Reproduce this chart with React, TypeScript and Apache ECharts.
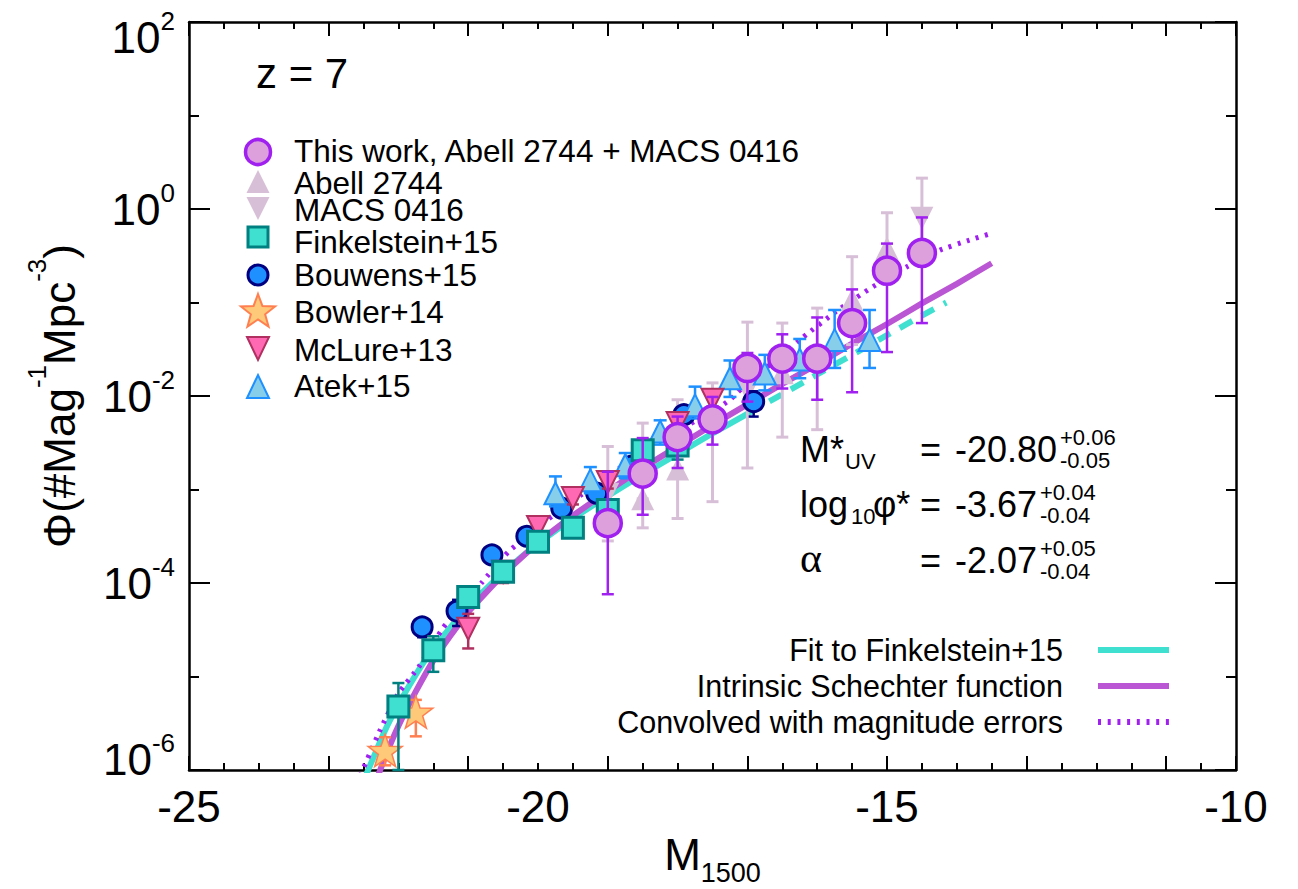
import React, { useEffect, useRef } from 'react';
import * as echarts from 'echarts';

const FONT = '"Liberation Sans", Arial, Helvetica, sans-serif';

// ---------- data (log10 Phi values) ----------
const thisWorkM = [-19.0, -18.5, -18.0, -17.5, -17.0, -16.5, -16.0, -15.5, -15.0, -14.5];
const thisWorkLogPhi = [-3.36, -2.83, -2.44, -2.25, -1.70, -1.60, -1.60, -1.22, -0.66, -0.47];
const thisWorkLo = [-4.12, -3.27, -2.77, -2.52, -2.06, -1.92, -2.04, -1.96, -1.53, -1.22];
const thisWorkHi = [-2.81, -2.45, -2.22, -2.01, -1.54, -1.34, -1.16, -0.86, -0.37, -0.09];

const a2744M = [-18.5, -18.0, -16.5, -15.5, -15.0];
const a2744LogPhi = [-3.10, -2.78, -1.75, -0.97, -0.42];
const a2744Lo = [-3.41, -3.31, -2.44, -1.45, -0.80];
const a2744Hi = [-2.80, -2.40, -1.22, -0.51, -0.04];

const m0416M = [-19.0, -18.5, -18.0, -17.5, -17.0, -16.0, -14.5];
const m0416LogPhi = [-3.05, -2.75, -2.45, -2.30, -1.94, -1.65, -0.10];
const m0416Lo = [-3.55, -3.10, -2.86, -3.13, -2.77, -2.36, -0.50];
const m0416Hi = [-2.54, -2.29, -2.04, -1.86, -1.21, -1.06, 0.33];

const finkM = [-22.0, -21.5, -21.0, -20.5, -20.0, -19.5, -19.0, -18.5, -18.0];
const finkLogPhi = [-5.32, -4.72, -4.15, -3.88, -3.56, -3.41, -3.22, -2.58, -2.53];
const finkLo = [-6.0, -4.95, -4.24, -3.96, -3.62, -3.46, -3.30, -2.68, -2.68];
const finkHi = [-5.07, -4.57, -4.06, -3.80, -3.50, -3.36, -3.14, -2.50, -2.44];

const bouwensM = [-21.66, -21.16, -20.66, -20.16, -19.66, -19.16, -18.66, -17.91, -16.91];
const bouwensLogPhi = [-4.47, -4.30, -3.70, -3.50, -3.20, -3.04, -2.75, -2.20, -2.06];
const bouwensLo = [-4.58, -4.46, -3.76, -3.55, -3.25, -3.09, -2.81, -2.26, -2.22];
const bouwensHi = [-4.38, -4.18, -3.64, -3.45, -3.16, -2.99, -2.69, -2.14, -1.95];

const bowlerM = [-22.19, -21.75];
const bowlerLogPhi = [-5.79, -5.38];
const bowlerLo = [-5.95, -5.64];
const bowlerHi = [-5.65, -5.25];

const mclureM = [-21.0, -20.5, -20.0, -19.5, -19.0, -18.0, -17.5];
const mclureLogPhi = [-4.49, -3.88, -3.40, -3.09, -2.92, -2.29, -2.04];
const mclureLo = [-4.70, -4.00, -3.48, -3.16, -2.99, -2.36, -2.11];
const mclureHi = [-4.33, -3.79, -3.33, -3.03, -2.86, -2.23, -1.98];

const atekM = [-19.75, -19.25, -18.75, -18.25, -17.75, -17.25, -16.75, -16.25, -15.75, -15.25];
const atekLogPhi = [-3.04, -2.90, -2.74, -2.38, -2.10, -1.81, -1.76, -1.61, -1.40, -1.40];
const atekLo = [-3.18, -3.04, -2.88, -2.52, -2.24, -2.01, -1.94, -1.81, -1.70, -1.70];
const atekHi = [-2.86, -2.76, -2.61, -2.26, -1.90, -1.62, -1.56, -1.39, -1.08, -1.08];

// curves
const intrinsicM = [-22.35, -22.2, -22.0, -21.75, -21.5, -21.25, -21.0, -20.5, -20.0, -19.5, -19.0, -18.5, -18.0, -17.5, -17.0, -16.5, -16.0, -15.5, -15.0, -14.5, -14.0, -13.5];
const intrinsicLog = [-6.18, -5.88, -5.53, -5.16, -4.83, -4.56, -4.31, -3.91, -3.57, -3.28, -3.02, -2.77, -2.54, -2.31, -2.09, -1.87, -1.66, -1.44, -1.23, -1.01, -0.80, -0.58];

const finkFitM = [-22.5, -22.2, -22.0, -21.75, -21.5, -21.0, -20.5, -20.0, -19.5, -19.0, -18.5, -18.0, -17.5, -17.0];
const finkFitLog = [-6.12, -5.59, -5.30, -4.98, -4.70, -4.25, -3.89, -3.58, -3.31, -3.07, -2.84, -2.62, -2.40, -2.19];
const finkExtM = [-17.0, -16.5, -16.0, -15.5, -15.0, -14.5, -14.15];
const finkExtLog = [-2.19, -1.98, -1.77, -1.56, -1.35, -1.14, -1.00];

const convM = [-22.6, -22.26, -22.0, -21.71, -21.36, -21.0, -20.81, -20.43, -20.0, -19.5, -19.0, -18.5, -18.0, -17.5, -17.25, -17.0, -16.5, -16.2, -15.7, -15.2, -14.72, -14.24, -13.85, -13.5];
const convLog = [-6.15, -5.57, -5.18, -4.90, -4.48, -4.17, -4.00, -3.67, -3.40, -3.12, -2.86, -2.60, -2.37, -2.17, -2.04, -1.86, -1.56, -1.37, -1.08, -0.83, -0.62, -0.44, -0.34, -0.26];

const xTickValues = [-25, -20, -15, -10];
const yTickExponents = [-6, -4, -2, 0, 2];

const legendLabels = ['This work, Abell 2744 + MACS 0416', 'Abell 2744', 'MACS 0416', 'Finkelstein+15', 'Bouwens+15', 'Bowler+14', 'McLure+13', 'Atek+15'];
const lineLegendLabels = ['Fit to Finkelstein+15', 'Intrinsic Schechter function', 'Convolved with magnitude errors'];

// ---------- colours ----------
const PURPLE = '#A020F0';
const PLUM = '#DDA0DD';
const THISTLE = '#D8BFD8';
const TURQ = '#40E0D0';
const TEAL = '#008080';
const DODGER = '#1E90FF';
const NAVY = '#000080';
const STAR_FILL = '#FFC97A';
const CORAL = '#FF7F50';
const HOTPINK = '#FF69B4';
const MAROON = '#B03060';
const SKY = '#87CEEB';
const ORCHID = '#BA55D3';

const STAR_PATH = 'path://M100,0 L123.5,67.6 L195.1,69.1 L138,112.4 L158.8,180.9 L100,140 L41.2,180.9 L62,112.4 L4.9,69.1 L76.5,67.6 Z';

const pairs = (m: number[], y: number[]) => m.map((v, i) => [v, y[i]]);
const triples = (m: number[], a: number[], b: number[]) => m.map((v, i) => [v, a[i], b[i]]);

function errSeries(name: string, m: number[], lo: number[], hi: number[], color: string, lw: number, cap: number, z: number) {
  return {
    type: 'custom',
    name,
    z,
    silent: true,
    data: triples(m, lo, hi),
    encode: { x: 0, y: [1, 2] },
    renderItem: (_p: any, api: any) => {
      const x = api.value(0);
      const a = api.coord([x, api.value(1)]);
      const b = api.coord([x, api.value(2)]);
      const h = cap / 2;
      const st = { stroke: color, lineWidth: lw };
      return {
        type: 'group',
        children: [
          { type: 'line', shape: { x1: a[0], y1: a[1], x2: b[0], y2: b[1] }, style: st },
          { type: 'line', shape: { x1: a[0] - h, y1: a[1], x2: a[0] + h, y2: a[1] }, style: st },
          { type: 'line', shape: { x1: b[0] - h, y1: b[1], x2: b[0] + h, y2: b[1] }, style: st },
        ],
      };
    },
  };
}

function markerSeries(name: string, m: number[], y: number[], symbol: string, size: number, fill: string, stroke: string, lw: number, z: number, rotate = 0) {
  return {
    type: 'scatter',
    name,
    z,
    silent: true,
    data: pairs(m, y),
    symbol,
    symbolSize: size,
    symbolRotate: rotate,
    symbolKeepAspect: true,
    itemStyle: { color: fill, borderColor: stroke, borderWidth: lw, opacity: 1 },
  };
}

function curveSeries(name: string, m: number[], y: number[], color: string, width: number, type: any, z: number) {
  return {
    type: 'line',
    name,
    z,
    silent: true,
    data: pairs(m, y),
    symbol: 'none',
    showSymbol: false,
    smooth: 0.15,
    clip: true,
    lineStyle: { color, width, type, cap: 'butt' },
  };
}

function starPoints(cx: number, cy: number, R: number, r: number) {
  const p: number[][] = [];
  for (let i = 0; i < 10; i++) {
    const ang = -Math.PI / 2 + (i * Math.PI) / 5;
    const rad = i % 2 === 0 ? R : r;
    p.push([cx + rad * Math.cos(ang), cy + rad * Math.sin(ang)]);
  }
  return p;
}

function txt(x: number, y: number, text: string, size: number, align = 'left', family = FONT) {
  return {
    type: 'text',
    x,
    y,
    z: 100,
    silent: true,
    style: { text, fill: '#000', fontSize: size, fontFamily: family, textAlign: align, textVerticalAlign: 'middle', verticalAlign: 'middle' },
  };
}

function buildGraphic() {
  const g: any[] = [];
  g.push(txt(256, 73, 'z = 7', 42));
  // legend symbols
  const sx = 258;
  g.push({ type: 'circle', z: 100, shape: { cx: sx, cy: 152, r: 12.5 }, style: { fill: PLUM, stroke: PURPLE, lineWidth: 3.5 } });
  g.push({ type: 'polygon', z: 100, shape: { points: [[sx - 11.5, 193], [sx + 11.5, 193], [sx, 170]] }, style: { fill: THISTLE } });
  g.push({ type: 'polygon', z: 100, shape: { points: [[sx - 11.5, 197], [sx + 11.5, 197], [sx, 220]] }, style: { fill: THISTLE } });
  g.push({ type: 'rect', z: 100, shape: { x: sx - 10, y: 227, width: 20, height: 20 }, style: { fill: TURQ, stroke: TEAL, lineWidth: 3 } });
  g.push({ type: 'circle', z: 100, shape: { cx: sx, cy: 275, r: 10 }, style: { fill: DODGER, stroke: NAVY, lineWidth: 3 } });
  g.push({ type: 'polygon', z: 100, shape: { points: starPoints(sx, 312, 18, 7.5) }, style: { fill: STAR_FILL, stroke: CORAL, lineWidth: 2 } });
  g.push({ type: 'polygon', z: 100, shape: { points: [[sx - 11, 337], [sx + 11, 337], [sx, 360]] }, style: { fill: HOTPINK, stroke: MAROON, lineWidth: 2 } });
  g.push({ type: 'polygon', z: 100, shape: { points: [[sx - 11, 398], [sx + 11, 398], [sx, 375]] }, style: { fill: SKY, stroke: DODGER, lineWidth: 2 } });
  const rows = [151, 183, 210, 242, 275, 312, 350, 386];
  legendLabels.forEach((l, i) => g.push(txt(294, rows[i], l, 31.5)));

  // line legend
  const lrows = [650, 686, 722];
  lineLegendLabels.forEach((l, i) => g.push(txt(1063, lrows[i], l, 30.5, 'right')));
  g.push({ type: 'line', z: 100, shape: { x1: 1098, y1: 650, x2: 1169, y2: 650 }, style: { stroke: TURQ, lineWidth: 6 } });
  g.push({ type: 'line', z: 100, shape: { x1: 1098, y1: 686, x2: 1169, y2: 686 }, style: { stroke: ORCHID, lineWidth: 6 } });
  g.push({ type: 'line', z: 100, shape: { x1: 1098, y1: 722, x2: 1169, y2: 722 }, style: { stroke: PURPLE, lineWidth: 6, lineDash: [3, 6.7] } });

  // fit parameters
  const F = 36, S = 22;
  const mid = (b: number, f: number) => b - 0.3465 * f;
  // row 1
  g.push(txt(800, mid(462, F), 'M*', F));
  g.push(txt(845, mid(469, S), 'UV', S));
  g.push(txt(920, mid(462, F), '=', F));
  g.push(txt(955, mid(462, F), '-20.80', F));
  g.push(txt(1060, mid(445, S), '+0.06', S));
  g.push(txt(1060, mid(468, S), '-0.05', S));
  // row 2
  g.push(txt(800, mid(517, F), 'log', F));
  g.push(txt(851, mid(524, S), '10', S));
  g.push(txt(873, mid(517, F), 'φ*', F));
  g.push(txt(920, mid(517, F), '=', F));
  g.push(txt(955, mid(517, F), '-3.67', F));
  g.push(txt(1040, mid(500, S), '+0.04', S));
  g.push(txt(1040, mid(523, S), '-0.04', S));
  // row 3
  g.push(txt(800, mid(573, 42), 'α', 42, 'left', '"Liberation Serif", "Times New Roman", serif'));
  g.push(txt(920, mid(573, F), '=', F));
  g.push(txt(955, mid(573, F), '-2.07', F));
  g.push(txt(1040, mid(556, S), '+0.05', S));
  g.push(txt(1040, mid(579, S), '-0.04', S));
  return g;
}

function yLabel(v: number) {
  if (v === yTickExponents[yTickExponents.length - 1]) return `{bt|10}{st|${v}}`;
  if (v === yTickExponents[0]) return `{bb|10}{s|${v}}`;
  return `{b|10}{s|${v}}`;
}

function buildOption() {
  const tickStyle = { color: '#000', width: 2 };
  const lineStyle = { color: '#000', width: 2.5 };
  const tickOnlyX = (position: string, interval: number, length: number, showLine: boolean) => ({
    type: 'value', min: -25, max: -10, interval, position,
    axisLine: { show: showLine, onZero: false, lineStyle },
    axisTick: { show: true, inside: true, length, lineStyle: tickStyle },
    axisLabel: { show: false },
    splitLine: { show: false },
  });
  const lbl = { fontSize: 44, fontFamily: FONT, color: '#000' };
  const sup = { fontSize: 26, fontFamily: FONT, color: '#000', verticalAlign: 'top' };
  const series: any[] = [
    curveSeries('Fit to Finkelstein+15', finkFitM, finkFitLog, TURQ, 6, 'solid', 2),
    curveSeries('Fit to Finkelstein+15 (extrapolated)', finkExtM, finkExtLog, TURQ, 6, [14, 11], 2),
    curveSeries('Intrinsic Schechter function', intrinsicM, intrinsicLog, ORCHID, 6, 'solid', 2),
    curveSeries('Convolved with magnitude errors', convM, convLog, PURPLE, 5, [3, 6.5], 2),

    errSeries('Abell 2744 err', a2744M, a2744Lo, a2744Hi, THISTLE, 3, 12, 3),
    errSeries('MACS 0416 err', m0416M, m0416Lo, m0416Hi, THISTLE, 3, 12, 3),
    markerSeries('Abell 2744', a2744M, a2744LogPhi, 'triangle', 23, THISTLE, THISTLE, 0, 4),
    markerSeries('MACS 0416', m0416M, m0416LogPhi, 'triangle', 23, THISTLE, THISTLE, 0, 4, 180),

    errSeries('Bouwens+15 err', bouwensM, bouwensLo, bouwensHi, NAVY, 2.5, 10, 5),
    markerSeries('Bouwens+15', bouwensM, bouwensLogPhi, 'circle', 20, DODGER, NAVY, 3, 6),

    errSeries('Bowler+14 err', bowlerM, bowlerLo, bowlerHi, CORAL, 2.5, 12, 7),
    markerSeries('Bowler+14', bowlerM, bowlerLogPhi, STAR_PATH, 34, STAR_FILL, CORAL, 1.5, 8),

    errSeries('Atek+15 err', atekM, atekLo, atekHi, DODGER, 2.5, 13, 9),
    markerSeries('Atek+15', atekM, atekLogPhi, 'triangle', 22, SKY, DODGER, 2, 10),

    errSeries('McLure+13 err', mclureM, mclureLo, mclureHi, MAROON, 2.5, 12, 11),
    markerSeries('McLure+13', mclureM, mclureLogPhi, 'triangle', 22, HOTPINK, MAROON, 2, 12, 180),

    errSeries('Finkelstein+15 err', finkM, finkLo, finkHi, TEAL, 2.5, 12, 13),
    markerSeries('Finkelstein+15', finkM, finkLogPhi, 'rect', 21, TURQ, TEAL, 3, 14),

    errSeries('This work err', thisWorkM, thisWorkLo, thisWorkHi, PURPLE, 2.5, 12, 15),
    markerSeries('This work, Abell 2744 + MACS 0416', thisWorkM, thisWorkLogPhi, 'circle', 27, PLUM, PURPLE, 3.5, 16),
  ];

  return {
    animation: false,
    backgroundColor: '#fff',
    textStyle: { fontFamily: FONT },
    grid: { left: 189, top: 22, width: 1047, height: 748, containLabel: false, outerBoundsMode: 'none' },
    xAxis: [
      {
        type: 'value', min: xTickValues[0], max: xTickValues[xTickValues.length - 1], interval: 5, position: 'bottom',
        axisLine: { show: true, onZero: false, lineStyle },
        axisTick: { show: false },
        splitLine: { show: false },
        axisLabel: { show: true, fontSize: 44, color: '#000', fontFamily: FONT, margin: 14 },
        name: '{m|M}{s|1500}',
        nameLocation: 'middle',
        nameGap: 62,
        nameTextStyle: {
          rich: {
            m: { fontSize: 44, fontFamily: FONT, color: '#000', padding: [0, 0, 10, 0] },
            s: { fontSize: 27, fontFamily: FONT, color: '#000', verticalAlign: 'bottom' },
          },
        },
      },
      tickOnlyX('bottom', 0.5, 7, false),
      tickOnlyX('bottom', 2, 14, false),
      tickOnlyX('top', 0.5, 7, true),
      tickOnlyX('top', 2, 14, false),
    ],
    yAxis: [
      {
        type: 'value', min: yTickExponents[0], max: yTickExponents[yTickExponents.length - 1], interval: 2, position: 'left',
        axisLine: { show: true, onZero: false, lineStyle },
        axisTick: { show: true, inside: true, length: 21, lineStyle: tickStyle },
        minorTick: { show: true, splitNumber: 2, length: 10, lineStyle: tickStyle },
        splitLine: { show: false },
        minorSplitLine: { show: false },
        axisLabel: {
          margin: 14,
          formatter: yLabel,
          rich: {
            b: { ...lbl, padding: [7, 0, 7, 0] },
            bt: { ...lbl, padding: [37, 0, 7, 0] },
            bb: { ...lbl, padding: [7, 0, 29, 0] },
            s: sup,
            st: { ...sup, padding: [30, 0, 0, 0] },
          },
        },
        name: '{a|Φ(#Mag}{s|-1}{a|Mpc}{s|-3}{a|)}',
        nameLocation: 'middle',
        nameRotate: 90,
        nameGap: 108,
        nameTextStyle: {
          rich: {
            a: { fontSize: 44, fontFamily: FONT, color: '#000', padding: [13, 0, 0, 0] },
            s: { fontSize: 26, fontFamily: FONT, color: '#000', verticalAlign: 'top' },
          },
        },
      },
      {
        type: 'value', min: -6, max: 2, interval: 2, position: 'right',
        axisLine: { show: true, onZero: false, lineStyle },
        axisTick: { show: true, inside: true, length: 21, lineStyle: tickStyle },
        minorTick: { show: true, splitNumber: 2, length: 10, lineStyle: tickStyle },
        splitLine: { show: false },
        minorSplitLine: { show: false },
        axisLabel: { show: false },
      },
    ],
    series,
    graphic: buildGraphic(),
  };
}

export default function App() {
  const ref = useRef<HTMLDivElement>(null);
  useEffect(() => {
    if (!ref.current) return;
    const chart = echarts.init(ref.current, null, { renderer: 'svg' });
    chart.setOption(buildOption() as any);
    return () => chart.dispose();
  }, []);
  return (
    <div
      ref={ref}
      style={{ position: 'fixed', left: 0, top: 0, width: 1298, height: 889, background: '#fff' }}
    />
  );
}
